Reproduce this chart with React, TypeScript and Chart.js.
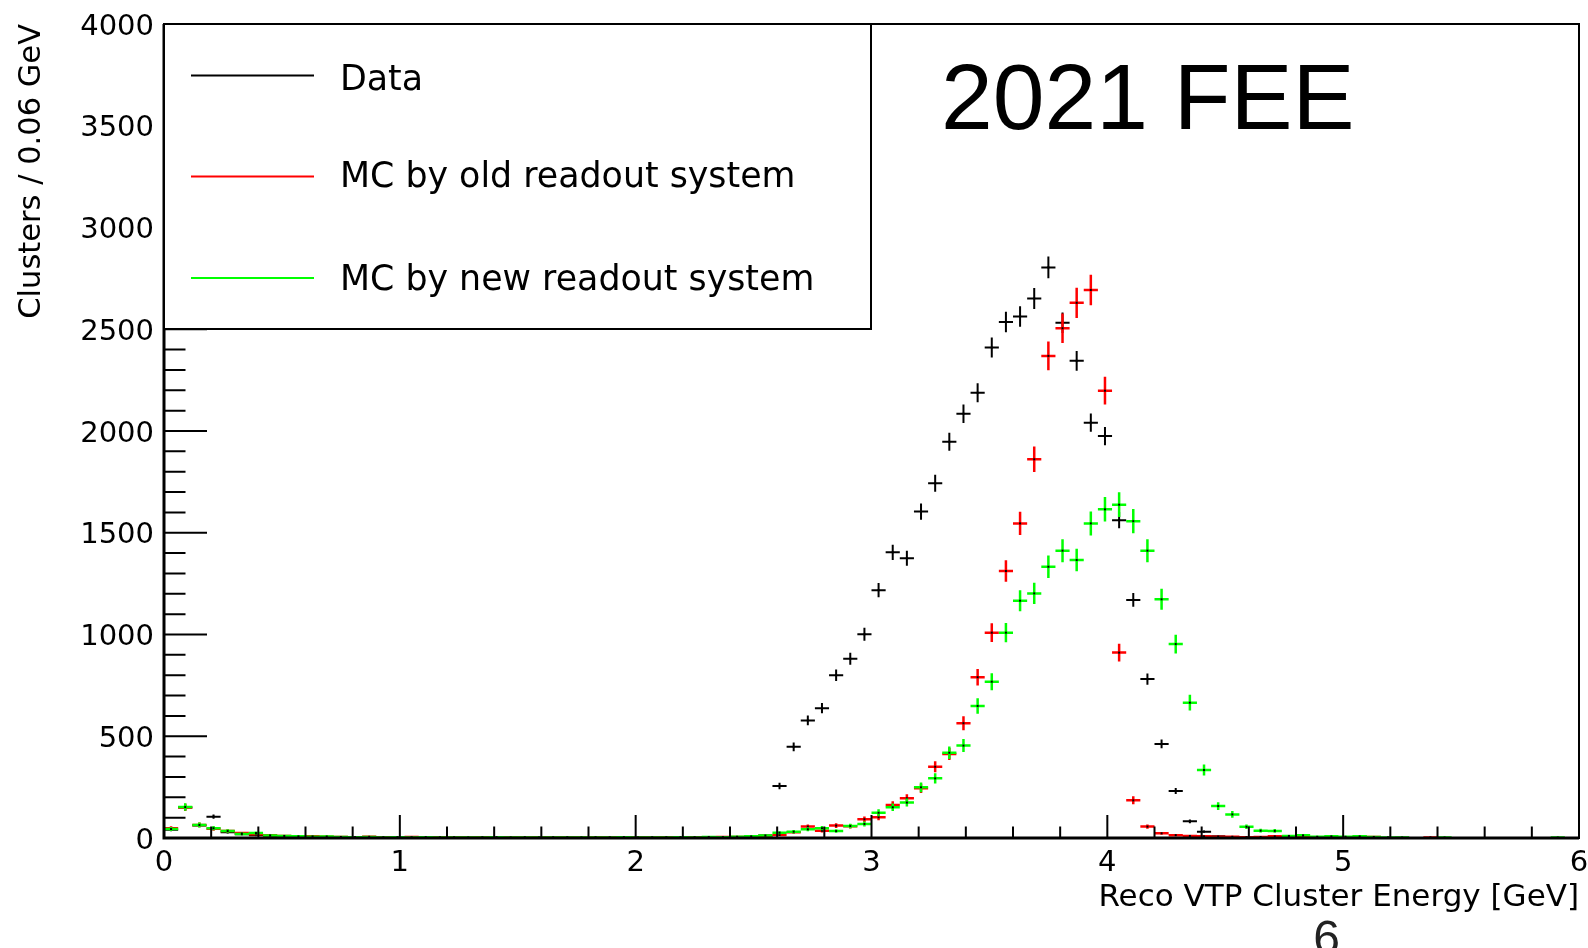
import React, { useEffect, useRef } from 'react';
import { Chart, registerables } from 'chart.js';

Chart.register(...registerables);

// ---- axis definitions ----
const X_MIN = 0;
const X_MAX = 6;
const BIN_WIDTH = 0.06;
const Y_MIN = 0;
const Y_MAX = 4000;
const X_MAJOR_STEP = 1;
const X_MINOR_STEP = 0.2;
const Y_MAJOR_STEP = 500;
const Y_MINOR_STEP = 100;
const X_TICK_LABELS = ['0', '1', '2', '3', '4', '5', '6'];
const Y_TICK_LABELS = ['0', '500', '1000', '1500', '2000', '2500', '3000', '3500', '4000'];
const X_TITLE = 'Reco VTP Cluster Energy [GeV]';
const Y_TITLE = 'Clusters / 0.06 GeV';
const HEADLINE = '2021 FEE';
const PAGE_NUMBER = '6';

// ---- histogram contents (100 bins of 0.06 GeV) ----
const DATA_COUNTS = [
  40, 150, 62, 105, 28, 18, 14, 10, 8, 6,
  5, 4, 4, 3, 3, 2, 3, 2, 2, 3,
  2, 2, 1, 2, 2, 1, 2, 1, 2, 1,
  1, 2, 1, 2, 1, 2, 2, 3, 3, 4,
  5, 6, 12, 255, 448, 578, 638, 800, 881, 1001,
  1218, 1404, 1375, 1604, 1743, 1947, 2085, 2188, 2410, 2536,
  2563, 2651, 2804, 2532, 2345, 2041, 1975, 1562, 1170, 781,
  462, 231, 82, 31, 8, 5, 4, 3, 4, 2,
  3, 2, 1, 2, 1, 1, 0, 1, 0, 0,
  0, 0, 0, 0, 0, 0, 0, 0, 0, 0,
];

const MC_OLD_COUNTS = [
  48, 150, 64, 45, 34, 24, 18, 14, 10, 8,
  9, 6, 5, 4, 6, 3, 4, 5, 3, 4,
  2, 3, 4, 3, 2, 3, 4, 2, 3, 3,
  4, 2, 3, 3, 2, 4, 3, 3, 4, 5,
  5, 6, 10, 15, 28, 56, 36, 61, 58, 92,
  102, 162, 195, 244, 350, 413, 564, 790, 1009, 1312,
  1546, 1861, 2369, 2505, 2630, 2693, 2198, 911, 185, 56,
  23, 14, 10, 8, 6, 6, 4, 5, 8, 5,
  5, 3, 4, 3, 7, 5, 0, 0, 0, 3,
  0, 0, 0, 0, 0, 0, 0, 0, 0, 0,
];

const MC_NEW_COUNTS = [
  44, 152, 64, 48, 34, 20, 24, 12, 10, 8,
  6, 7, 5, 4, 5, 3, 4, 3, 4, 3,
  3, 2, 3, 4, 2, 3, 2, 3, 3, 2,
  3, 3, 4, 2, 3, 3, 4, 3, 5, 4,
  6, 8, 12, 26, 31, 43, 48, 34, 59, 69,
  124, 151, 174, 249, 293, 419, 454, 649, 768, 1009,
  1166, 1202, 1333, 1412, 1366, 1546, 1615, 1638, 1557, 1412,
  1173, 953, 665, 334, 157, 116, 55, 36, 35, 10,
  13, 6, 8, 6, 8, 5, 3, 2, 0, 0,
  2, 0, 0, 0, 0, 0, 0, 0, 2, 0,
];

const SERIES_LABELS = ['Data', 'MC by old readout system', 'MC by new readout system'];
const SERIES_COLORS = ['#000000', '#ff0000', '#00ff00'];
const SERIES_LINE_WIDTH = [2, 2.5, 2.5];
// statistical error = sqrt(N) times the per-sample weight
const SERIES_ERROR_WEIGHT = [1.0, 1.45, 1.5];

// ---- styles ----
const ROOT_FONT = '"DejaVu Sans", sans-serif';
const SLIDE_FONT = '"Liberation Sans", Arial, sans-serif';

function makePoints(counts: number[], weight: number) {
  const pts: { x: number; y: number; err: number }[] = [];
  counts.forEach((v, i) => {
    if (v > 0) {
      pts.push({ x: X_MIN + (i + 0.5) * BIN_WIDTH, y: v, err: Math.sqrt(v) * weight });
    }
  });
  return pts;
}

function buildTicks(min: number, max: number, step: number) {
  const out: { value: number }[] = [];
  const n = Math.round((max - min) / step);
  for (let k = 0; k <= n; k++) out.push({ value: Math.round((min + k * step) * 1e6) / 1e6 });
  return out;
}

function isMultiple(v: number, step: number) {
  const r = v / step;
  return Math.abs(r - Math.round(r)) < 1e-6;
}

const rootPlugin = {
  id: 'rootStyle',
  afterDatasetsDraw(chart: any) {
    const ctx = chart.ctx;
    const area = chart.chartArea;
    const xs = chart.scales.x;
    const ys = chart.scales.y;
    ctx.save();
    ctx.beginPath();
    ctx.rect(area.left, area.top, area.right - area.left, area.bottom - area.top);
    ctx.clip();
    chart.data.datasets.forEach((ds: any, di: number) => {
      ctx.strokeStyle = ds.borderColor;
      ctx.lineWidth = SERIES_LINE_WIDTH[di];
      ctx.beginPath();
      ds.data.forEach((p: any) => {
        const cx = xs.getPixelForValue(p.x);
        const l = xs.getPixelForValue(p.x - BIN_WIDTH / 2);
        const r = xs.getPixelForValue(p.x + BIN_WIDTH / 2);
        const cy = ys.getPixelForValue(p.y);
        const t = ys.getPixelForValue(p.y + p.err);
        const b = ys.getPixelForValue(Math.max(0, p.y - p.err));
        ctx.moveTo(l, cy);
        ctx.lineTo(r, cy);
        ctx.moveTo(cx, t);
        ctx.lineTo(cx, b);
      });
      ctx.stroke();
      ctx.fillStyle = '#000000';
      ds.data.forEach((p: any) => {
        const cx = xs.getPixelForValue(p.x);
        const cy = ys.getPixelForValue(p.y);
        ctx.fillRect(cx - 1, cy - 1, 2, 2);
      });
    });
    ctx.restore();
  },
  afterDraw(chart: any) {
    const ctx = chart.ctx;
    const area = chart.chartArea;
    const xs = chart.scales.x;
    const ys = chart.scales.y;
    ctx.save();
    // tick marks (inward, ROOT style)
    ctx.strokeStyle = '#000000';
    ctx.lineWidth = 2;
    ctx.beginPath();
    xs.ticks.forEach((t: any) => {
      const px = xs.getPixelForValue(t.value);
      const len = isMultiple(t.value, X_MAJOR_STEP) ? 23 : 11.5;
      ctx.moveTo(px, area.bottom);
      ctx.lineTo(px, area.bottom - len);
    });
    ys.ticks.forEach((t: any) => {
      const py = ys.getPixelForValue(t.value);
      const len = isMultiple(t.value, Y_MAJOR_STEP) ? 43 : 21.5;
      ctx.moveTo(area.left, py);
      ctx.lineTo(area.left + len, py);
    });
    ctx.stroke();
    // frame
    ctx.lineWidth = 2;
    ctx.strokeRect(area.left, area.top, area.right - area.left, area.bottom - area.top);
    ctx.lineWidth = 3;
    ctx.beginPath();
    ctx.moveTo(area.left, area.top);
    ctx.lineTo(area.left, area.bottom);
    ctx.lineTo(area.right, area.bottom);
    ctx.stroke();

    // legend box
    const lx1 = area.left;
    const ly1 = area.top;
    const lx2 = 871;
    const ly2 = 329;
    ctx.fillStyle = '#ffffff';
    ctx.fillRect(lx1, ly1, lx2 - lx1, ly2 - ly1);
    ctx.lineWidth = 2;
    ctx.strokeStyle = '#000000';
    ctx.strokeRect(lx1, ly1, lx2 - lx1, ly2 - ly1);
    const lineY = [75.5, 176.5, 278];
    const textY = [90, 187, 290];
    ctx.font = `34.8px ${ROOT_FONT}`;
    ctx.textAlign = 'left';
    ctx.textBaseline = 'alphabetic';
    SERIES_LABELS.forEach((lab, i) => {
      ctx.strokeStyle = SERIES_COLORS[i];
      ctx.lineWidth = 2;
      ctx.beginPath();
      ctx.moveTo(191, lineY[i]);
      ctx.lineTo(314, lineY[i]);
      ctx.stroke();
      ctx.fillStyle = '#000000';
      ctx.fillText(lab, 340, textY[i]);
    });

    // axis titles
    ctx.fillStyle = '#000000';
    ctx.font = `31px ${ROOT_FONT}`;
    ctx.textAlign = 'right';
    ctx.textBaseline = 'alphabetic';
    ctx.fillText(X_TITLE, area.right, 906);
    ctx.font = `30.5px ${ROOT_FONT}`;
    ctx.save();
    ctx.translate(40, area.top);
    ctx.rotate(-Math.PI / 2);
    ctx.textAlign = 'right';
    ctx.fillText(Y_TITLE, 0, 0);
    ctx.restore();

    // headline and page number
    ctx.font = `93px ${SLIDE_FONT}`;
    ctx.textAlign = 'left';
    ctx.fillText(HEADLINE, 941, 129);
    ctx.font = `48px ${SLIDE_FONT}`;
    ctx.textAlign = 'center';
    ctx.fillStyle = '#222222';
    ctx.fillText(PAGE_NUMBER, 1326.5, 954);
    ctx.restore();
  },
};

export default function App() {
  const canvasRef = useRef<HTMLCanvasElement | null>(null);

  useEffect(() => {
    const canvas = canvasRef.current;
    if (!canvas) return;
    const seriesCounts = [DATA_COUNTS, MC_OLD_COUNTS, MC_NEW_COUNTS];
    const chart = new Chart(canvas, {
      type: 'scatter',
      data: {
        datasets: seriesCounts.map((counts, i) => ({
          label: SERIES_LABELS[i],
          data: makePoints(counts, SERIES_ERROR_WEIGHT[i]),
          borderColor: SERIES_COLORS[i],
          backgroundColor: SERIES_COLORS[i],
          pointRadius: 0,
          pointHoverRadius: 0,
          showLine: false,
        })),
      },
      options: {
        animation: false,
        responsive: false,
        devicePixelRatio: 1,
        events: [],
        layout: { padding: { left: 0, right: 9, top: 24, bottom: 0 } },
        plugins: {
          legend: { display: false },
          tooltip: { enabled: false },
          title: { display: false },
        },
        scales: {
          x: {
            type: 'linear',
            min: X_MIN,
            max: X_MAX,
            afterBuildTicks: (scale: any) => {
              scale.ticks = buildTicks(X_MIN, X_MAX, X_MINOR_STEP);
            },
            afterFit: (scale: any) => {
              scale.height = 110;
              scale.paddingLeft = 0;
              scale.paddingRight = 0;
            },
            grid: { display: false, drawTicks: false },
            border: { display: false },
            ticks: {
              autoSkip: false,
              maxRotation: 0,
              minRotation: 0,
              padding: 8,
              color: '#000000',
              font: { family: ROOT_FONT, size: 29 },
              callback: (v: any) => (isMultiple(Number(v), X_MAJOR_STEP) ? X_TICK_LABELS[Math.round(Number(v) / X_MAJOR_STEP)] : ''),
            },
          },
          y: {
            type: 'linear',
            min: Y_MIN,
            max: Y_MAX,
            afterBuildTicks: (scale: any) => {
              scale.ticks = buildTicks(Y_MIN, Y_MAX, Y_MINOR_STEP);
            },
            afterFit: (scale: any) => {
              scale.width = 164;
              scale.paddingTop = 0;
              scale.paddingBottom = 0;
            },
            grid: { display: false, drawTicks: false },
            border: { display: false },
            ticks: {
              autoSkip: false,
              padding: 10,
              labelOffset: 3,
              color: '#000000',
              font: { family: ROOT_FONT, size: 29 },
              callback: (v: any) => (isMultiple(Number(v), Y_MAJOR_STEP) ? Y_TICK_LABELS[Math.round(Number(v) / Y_MAJOR_STEP)] : ''),
            },
          },
        },
      },
      plugins: [rootPlugin],
    } as any);
    return () => {
      chart.destroy();
    };
  }, []);

  return (
    <div style={{ position: 'absolute', left: 0, top: 0, width: 1588, height: 948, background: '#ffffff', overflow: 'hidden' }}>
      <canvas ref={canvasRef} width={1588} height={948} style={{ display: 'block', width: 1588, height: 948 }} />
    </div>
  );
}
